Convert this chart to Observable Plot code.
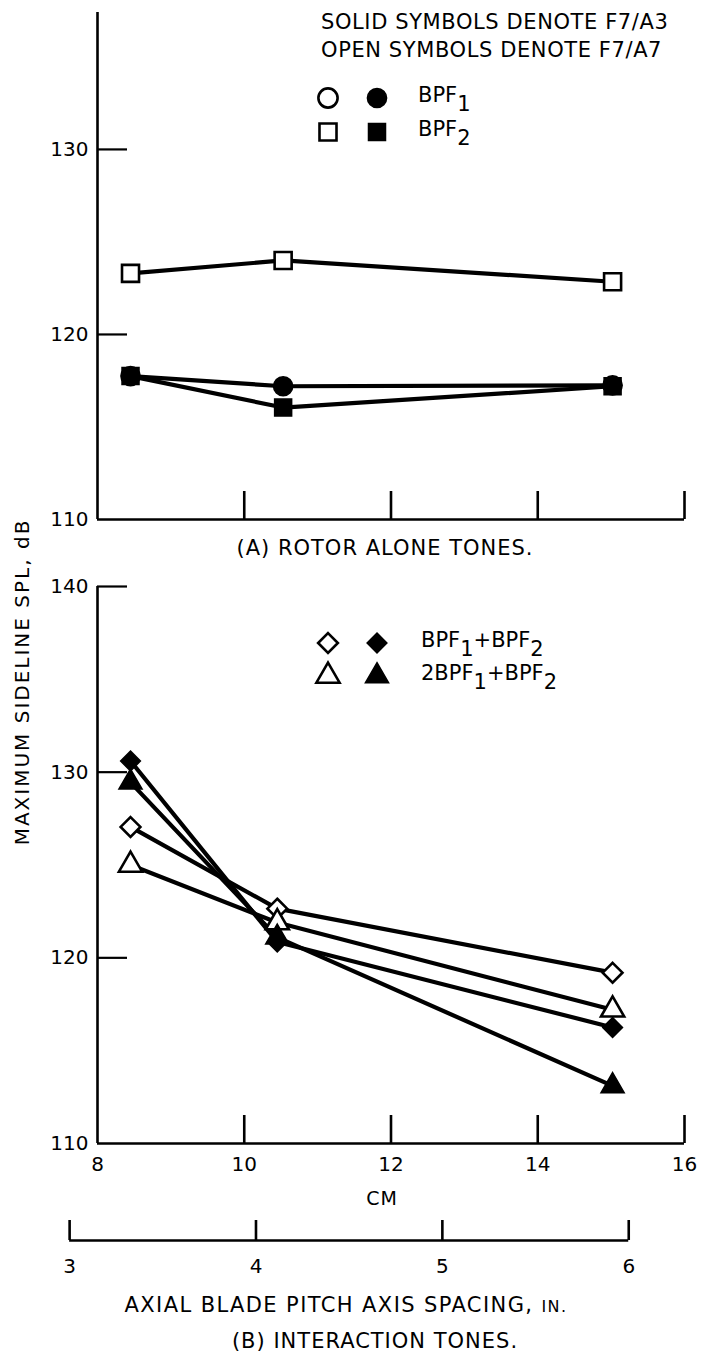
<!DOCTYPE html>
<html><head><meta charset="utf-8">
<script src="https://cdn.jsdelivr.net/npm/d3@7"></script>
<script src="https://cdn.jsdelivr.net/npm/@observablehq/plot@0.6"></script>
<style>
body{margin:0;background:#fff;}
#root{position:relative;width:701px;height:1358px;overflow:hidden;color:#000;
  font-family:"DejaVu Sans","Liberation Sans",sans-serif;}
.abs{position:absolute;white-space:nowrap;line-height:1;}
.sub{position:relative;top:0.45em;}
svg{overflow:visible;}
</style></head><body><div id="root"></div>
<script>
const FONT = '"DejaVu Sans","Liberation Sans",sans-serif';

// ---- axis tick values ----
const cmTicks = [10, 12, 14, 16];
const cmLabels = [8, 10, 12, 14, 16];
const inchTicks = [3, 4, 5, 6];
const topYTicks = [120, 130];
const topYLabels = [110, 120, 130];
const botYTicks = [120, 130, 140];
const botYLabels = [110, 120, 130, 140];

// ---- (A) rotor alone tones: spacing (cm) and SPL (dB) ----
const topSpacing = [8.45, 10.53, 15.02];
const bpf2_A7 = [123.3, 124.0, 122.85];   // open squares
const bpf1_A3 = [117.75, 117.2, 117.25];  // solid circles
const bpf2_A3 = [117.75, 116.05, 117.2];  // solid squares

// ---- (B) interaction tones ----
const botSpacing = [8.45, 10.45, 15.02];
const sum_A7 = [127.05, 122.65, 119.2];   // open diamonds  BPF1+BPF2
const two_A7 = [125.0, 121.9, 117.2];     // open triangles 2BPF1+BPF2
const sum_A3 = [130.6, 120.85, 116.25];   // solid diamonds
const two_A3 = [129.45, 121.1, 113.1];    // solid triangles

const SYM_R = {square: 9.6, circle: 9.6, diamond2: 8.9, triangle: 8.6};

const topSeries = [
  {name: "BPF2 F7/A7", symbol: "square", filled: false, values: bpf2_A7},
  {name: "BPF1 F7/A3", symbol: "circle", filled: true, values: bpf1_A3},
  {name: "BPF2 F7/A3", symbol: "square", filled: true, values: bpf2_A3}
];
const botSeries = [
  {name: "BPF1+BPF2 F7/A7", symbol: "diamond2", filled: false, values: sum_A7},
  {name: "2BPF1+BPF2 F7/A7", symbol: "triangle", filled: false, values: two_A7},
  {name: "BPF1+BPF2 F7/A3", symbol: "diamond2", filled: true, values: sum_A3},
  {name: "2BPF1+BPF2 F7/A3", symbol: "triangle", filled: true, values: two_A3}
];

const root = document.getElementById("root");
function place(el, left, top) {
  el.style.position = "absolute"; el.style.left = left + "px"; el.style.top = top + "px";
  root.appendChild(el); return el;
}
function textDiv(html, {left, top, size = 21, center = false, spacing = 0}) {
  const d = document.createElement("div");
  d.className = "abs";
  d.innerHTML = html;
  d.style.fontSize = size + "px";
  d.style.letterSpacing = spacing + "px";
  d.style.left = left + "px"; d.style.top = top + "px";
  d.style.transform = center ? "translate(-50%,-50%)" : "translateY(-50%)";
  root.appendChild(d); return d;
}

function panel({height, marginTop, marginBottom, yDomain, yTicks, yLabels, xs, series, xLabels}) {
  const rows = series.flatMap(s => s.values.map((v, i) => ({x: xs[i], y: v, key: s.name})));
  const y0 = yDomain[0];
  const pxPerY = (height - marginTop - marginBottom) / (yDomain[1] - yDomain[0]);
  const pxPerX = (701 - 97 - 17) / 8;
  const marks = [
    Plot.ruleY([y0], {x1: 8, x2: 16, stroke: "#000", strokeWidth: 2.6}),
    Plot.ruleX([8], {y1: y0, y2: yDomain[1], stroke: "#000", strokeWidth: 2.6}),
    Plot.ruleX(cmTicks, {y1: y0, y2: y0 + 28 / pxPerY, stroke: "#000", strokeWidth: 2.6}),
    Plot.ruleY(yTicks, {x1: 8, x2: 8 + 30 / pxPerX, stroke: "#000", strokeWidth: 2.2}),
    Plot.axisY(yLabels, {label: null, tickSize: 0, tickPadding: 9, fontSize: 20, fontFamily: FONT, fill: "#000"}),
    Plot.line(rows, {x: "x", y: "y", z: "key", stroke: "#000", strokeWidth: 4.2, strokeLinejoin: "round"})
  ];
  if (xLabels) marks.push(Plot.axisX(xLabels, {label: null, tickSize: 0, tickPadding: 13, fontSize: 20, fontFamily: FONT, fill: "#000"}));
  for (const s of series) {
    marks.push(Plot.dot(s.values.map((v, i) => ({x: xs[i], y: v})), {
      x: "x", y: "y", symbol: s.symbol, r: SYM_R[s.symbol],
      fill: s.filled ? "#000" : "#fff", stroke: "#000", strokeWidth: s.filled ? 1.5 : 2.6
    }));
  }
  return Plot.plot({
    width: 701, height, marginLeft: 97, marginRight: 17, marginTop, marginBottom,
    x: {domain: [8, 16], axis: null},
    y: {domain: yDomain, axis: null},
    style: {fontFamily: FONT, fontSize: "20px", color: "#000", background: "transparent", overflow: "visible"},
    marks
  });
}

// (A) top panel: 137.4 at y=12, 110 at y=519
place(panel({height: 545, marginTop: 12, marginBottom: 26, yDomain: [110, 137.4],
  yTicks: topYTicks, yLabels: topYLabels, xs: topSpacing, series: topSeries}), 0, 0);

// (B) bottom panel: 140 at y=586, 110 at y=1143
place(panel({height: 625, marginTop: 26, marginBottom: 42, yDomain: [110, 140],
  yTicks: botYTicks, yLabels: botYLabels, xs: botSpacing, series: botSeries, xLabels: cmLabels}), 0, 560);

// inch axis (same physical scale as the cm axis)
const inchPlot = Plot.plot({
  width: 701, height: 90, marginLeft: 97, marginRight: 17, marginTop: 20, marginBottom: 50,
  x: {domain: [8 / 2.54, 16 / 2.54], axis: null},
  y: {domain: [0, 1], axis: null},
  style: {fontFamily: FONT, fontSize: "20px", color: "#000", background: "transparent", overflow: "visible"},
  marks: [
    Plot.ruleY([0], {x1: inchTicks[0], x2: inchTicks[inchTicks.length - 1], stroke: "#000", strokeWidth: 2.6}),
    Plot.ruleX(inchTicks, {y1: 0, y2: 1, stroke: "#000", strokeWidth: 2.6}),
    Plot.axisX(inchTicks, {label: null, tickFormat: d3.format("d"), tickSize: 0, tickPadding: 18, fontSize: 20, fontFamily: FONT, fill: "#000"})
  ]
});
place(inchPlot, 0, 1200);

// texts
textDiv("(A) ROTOR ALONE TONES.", {left: 385, top: 548, size: 21, center: true, spacing: 1});
textDiv("CM", {left: 382, top: 1198, size: 19, center: true, spacing: 1});
textDiv('AXIAL BLADE PITCH AXIS SPACING, <span style="font-size:16px">IN.</span>', {left: 346, top: 1305, size: 21, center: true, spacing: 1.4});
textDiv("(B) INTERACTION TONES.", {left: 375, top: 1341, size: 21, center: true, spacing: 1});
const yt = textDiv("MAXIMUM SIDELINE SPL, dB", {left: 22, top: 682, size: 20, center: true, spacing: 2});
yt.style.transform = "translate(-50%,-50%) rotate(-90deg)";

textDiv("SOLID SYMBOLS DENOTE F7/A3", {left: 321, top: 22, size: 21, spacing: 0.6});
textDiv("OPEN SYMBOLS DENOTE F7/A7", {left: 321, top: 50, size: 21, spacing: 0.6});

// legend symbols
function legendSym(symbol, filled, cx, cy) {
  const svg = d3.create("svg").attr("width", 30).attr("height", 30)
    .style("position", "absolute").style("left", (cx - 15) + "px").style("top", (cy - 15) + "px");
  const typeMap = {circle: d3.symbolCircle, square: d3.symbolSquare, diamond2: d3.symbolDiamond2, triangle: d3.symbolTriangle};
  const r = SYM_R[symbol];
  svg.append("path").attr("transform", "translate(15,15)")
    .attr("d", d3.symbol(typeMap[symbol], Math.PI * r * r)())
    .attr("fill", filled ? "#000" : "#fff").attr("stroke", "#000").attr("stroke-width", filled ? 1.5 : 2.6);
  root.appendChild(svg.node());
}
const legendTop = [
  {symbol: "circle", label: 'BPF<span class="sub">1</span>', cy: 98, x: 418},
  {symbol: "square", label: 'BPF<span class="sub">2</span>', cy: 132, x: 418}
];
const legendBot = [
  {symbol: "diamond2", label: 'BPF<span class="sub">1</span>+BPF<span class="sub">2</span>', cy: 643, x: 421},
  {symbol: "triangle", label: '2BPF<span class="sub">1</span>+BPF<span class="sub">2</span>', cy: 676, x: 421}
];
for (const L of [...legendTop, ...legendBot]) {
  legendSym(L.symbol, false, 328, L.cy);
  legendSym(L.symbol, true, 377, L.cy);
  textDiv(L.label, {left: L.x, top: L.cy - 3, size: 21});
}
</script></body></html>
